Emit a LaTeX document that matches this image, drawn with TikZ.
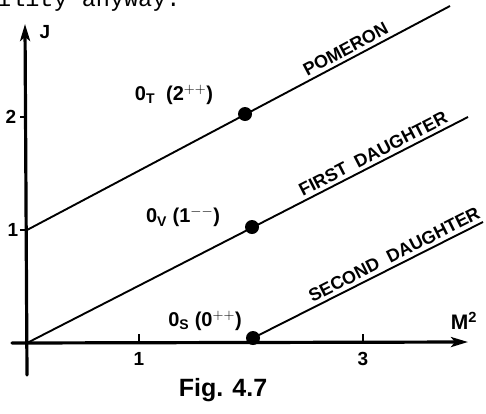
\documentclass[tikz,border=0pt]{standalone}
\usepackage{fontspec}
\setmainfont{Liberation Sans}
\newfontfamily\twfont{Liberation Mono}
\usetikzlibrary{arrows.meta}
\begin{document}
\begin{tikzpicture}[x=1pt,y=-1pt,
  axisline/.style={line width=3.2pt,line cap=round},
  trajline/.style={line width=1.9pt},
  dotnode/.style={circle,fill=black,inner sep=0pt,minimum size=14pt},
  lbl/.style={font=\fontsize{19}{19}\selectfont\bfseries,inner sep=0pt},
  statelbl/.style={font=\fontsize{20}{20}\selectfont\bfseries,inner sep=0pt},
  slopedlbl/.style={font=\fontsize{18}{18}\selectfont\bfseries,sloped,anchor=south,inner sep=3.5pt},
  tickline/.style={line width=1.6pt},
  axtip/.style={-{Stealth[length=17pt,width=10pt,inset=4pt]}}]
\clip (0,0) rectangle (486,413);
\useasboundingbox (0,0) rectangle (486,413);
% clipped page text at the top
\node[font=\twfont\fontsize{23.5}{23.5}\selectfont,anchor=base west,inner sep=0pt] (pagetext) at (-3,6) {ility anyway.};
% axes
\coordinate (O) at (27,343);
\coordinate (ybot) at (27,375);
\coordinate (ytop) at (25,24);
\coordinate (xleft) at (12,343);
\coordinate (xright) at (468,342);
\draw[axisline,axtip] (ybot) -- (ytop);
\draw[axisline,axtip] (xleft) -- (xright);
% ticks
\coordinate (ty2a) at (20,117); \coordinate (ty2b) at (27,117);
\coordinate (ty1a) at (20,230); \coordinate (ty1b) at (27,230);
\coordinate (tx1a) at (139,343); \coordinate (tx1b) at (139,334);
\coordinate (tx3a) at (363,343); \coordinate (tx3b) at (363,334);
\draw[tickline] (ty2a) -- (ty2b);
\draw[tickline] (ty1a) -- (ty1b);
\draw[tickline] (tx1a) -- (tx1b);
\draw[tickline] (tx3a) -- (tx3b);
% axis labels
\node[lbl] (lJ) at (45,32) {J};
\node[lbl] (l2) at (11,117) {2};
\node[lbl] (l1) at (13,230) {1};
\node[lbl] (lx1) at (139,359) {1};
\node[lbl] (lx3) at (363,359) {3};
\node[font=\fontsize{21}{21}\selectfont\bfseries,inner sep=0pt] (lM) at (464,321) {M$^{\mathbf 2}$};
% trajectories
\coordinate (pA) at (27,230);
\coordinate (pB) at (450,6);
\coordinate (fB) at (468,117);
\coordinate (sB) at (483,222);
\node[dotnode] (dT) at (245,114) {};
\node[dotnode] (dV) at (252,227) {};
\node[dotnode] (dS) at (253,338) {};
\draw[trajline] (pA) -- node[slopedlbl,pos=0.765] (lpom) {POMERON} (pB);
\draw[trajline] (O) -- node[slopedlbl,pos=0.796] (lfirst) {FIRST\ \ DAUGHTER} (fB);
\draw[trajline] (dS.center) -- node[slopedlbl,pos=0.635] (lsecond) {SECOND\ \ DAUGHTER} (sB);
% state labels
\node[statelbl] (lT) at (174,95) {0$_{\mathbf T}$\ \ (2$^{++}$)};
\node[statelbl] (lV) at (183,217) {0$_{\mathbf V}$\ (1$^{--}$)};
\node[statelbl] (lS) at (205,321) {0$_{\mathbf S}$\ (0$^{++}$)};
% caption
\node[font=\fontsize{25}{25}\selectfont\bfseries,inner sep=0pt] (cap) at (223,390) {Fig. 4.7};
\end{tikzpicture}
\end{document}
